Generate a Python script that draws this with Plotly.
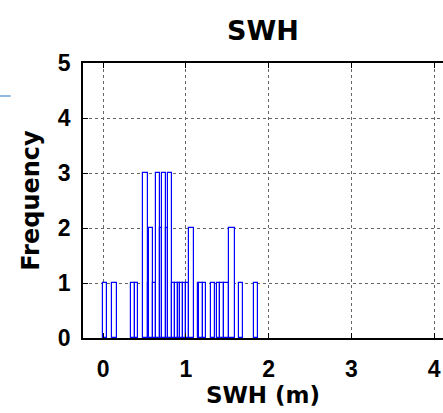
import plotly.graph_objects as go

# Histogram bins (SWH in metres): left edge, right edge, count
bin_left = [0.000, 0.112, 0.342, 0.383, 0.487, 0.537, 0.556, 0.604, 0.640, 0.682,
            0.713, 0.761, 0.781, 0.833, 0.864, 0.900, 0.930, 0.966, 0.996, 1.033,
            1.141, 1.165, 1.202, 1.298, 1.377, 1.407, 1.455, 1.516, 1.643, 1.824]
bin_right = [0.048, 0.169, 0.383, 0.419, 0.537, 0.556, 0.604, 0.640, 0.682, 0.713,
             0.761, 0.781, 0.833, 0.864, 0.900, 0.930, 0.966, 0.996, 1.033, 1.093,
             1.165, 1.202, 1.238, 1.347, 1.407, 1.455, 1.516, 1.588, 1.685, 1.872]
counts = [1, 1, 1, 1, 3, 1, 2, 1, 3, 2,
          3, 2, 3, 1, 1, 1, 1, 1, 1, 2,
          1, 1, 1, 1, 1, 1, 1, 2, 1, 1]

x_ticks = [0, 1, 2, 3, 4]
y_ticks = [0, 1, 2, 3, 4, 5]

centers = [(a + b) / 2 for a, b in zip(bin_left, bin_right)]
widths = [b - a for a, b in zip(bin_left, bin_right)]

TICK_FONT = "Liberation Sans"
LABEL_FONT = "DejaVu Sans"

fig = go.Figure()
fig.add_trace(go.Bar(
    x=centers, y=counts, width=widths,
    marker=dict(color="white", line=dict(color="#0000ff", width=1.2)),
    showlegend=False,
))

fig.update_layout(
    width=443, height=413,
    margin=dict(l=83, r=0, t=63, b=75, autoexpand=False),
    paper_bgcolor="white", plot_bgcolor="white",
    font=dict(family=TICK_FONT, color="black", size=23, weight="bold"),
    title=dict(text="SWH", x=0.5, xanchor="center", xref="paper",
               y=1 - 31 / 413, yanchor="middle",
               font=dict(family=LABEL_FONT, size=27, color="black", weight="bold")),
    bargap=0,
    xaxis=dict(
        range=[-0.242, 4.106], tickvals=x_ticks, ticktext=[str(v) for v in x_ticks],
        showgrid=True, gridcolor="#666", griddash="dot", gridwidth=1,
        zeroline=False, showline=True, linecolor="black", linewidth=1.5,
        mirror="ticks", ticks="inside", ticklen=5, tickcolor="black",
        ticklabelstandoff=10, automargin=False,
        title=dict(text="SWH (m)", font=dict(family=LABEL_FONT, size=23, weight="bold"),
                   standoff=4),
    ),
    yaxis=dict(
        range=[0, 5], tickvals=y_ticks, ticktext=[str(v) for v in y_ticks],
        showgrid=True, gridcolor="#666", griddash="dot", gridwidth=1,
        zeroline=False, showline=True, linecolor="black", linewidth=1.5,
        ticks="inside", ticklen=5, tickcolor="black",
        ticklabelstandoff=6, automargin=False,
        title=dict(text="Frequency", font=dict(family=LABEL_FONT, size=24, weight="bold"),
                   standoff=11),
    ),
    shapes=[dict(type="line", xref="paper", yref="paper",
                 x0=-0.2306, x1=-0.2008, y0=0.88, y1=0.88,
                 line=dict(color="#6aa6d6", width=1.5))],
)

fig.write_html("out.html", config={"displayModeBar": False},
               post_script="document.body.style.margin='0';")
